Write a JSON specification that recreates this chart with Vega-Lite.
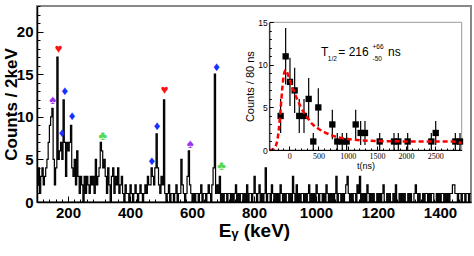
{
  "$schema": "https://vega.github.io/schema/vega-lite/v6.json",
  "width": 434,
  "height": 196,
  "autosize": "none",
  "padding": {"left": 37, "top": 6, "right": 3, "bottom": 54},
  "background": "white",
  "config": {
    "view": {"stroke": "#888", "strokeWidth": 2},
    "axis": {"grid": false, "domainColor": "black", "tickColor": "black", "labelColor": "black", "titleColor": "black", "labelFont": "Liberation Sans", "titleFont": "Liberation Sans", "labelFlush": false, "labelOverlap": false},
    "text": {"font": "Liberation Sans"}
  },
  "datasets": {
    "hist": [
      {"e":100,"c":2},{"e":104,"c":4},{"e":108,"c":1},{"e":112,"c":3},{"e":116,"c":4},{"e":120,"c":2},{"e":124,"c":3},{"e":128,"c":4},{"e":132,"c":5},{"e":136,"c":7},{"e":140,"c":9},{"e":144,"c":10},{"e":148,"c":11},{"e":152,"c":5},{"e":156,"c":2},{"e":160,"c":4},{"e":164,"c":17},{"e":168,"c":5},{"e":172,"c":6},{"e":176,"c":7},{"e":180,"c":5},{"e":184,"c":12},{"e":188,"c":7},{"e":192,"c":3},{"e":196,"c":7},{"e":200,"c":6},{"e":204,"c":7},{"e":208,"c":9},{"e":212,"c":4},{"e":216,"c":3},{"e":220,"c":5},{"e":224,"c":2},{"e":228,"c":6},{"e":232,"c":3},{"e":236,"c":1},{"e":240,"c":3},{"e":244,"c":2},{"e":248,"c":0},{"e":252,"c":3},{"e":256,"c":1},{"e":260,"c":3},{"e":264,"c":2},{"e":268,"c":1},{"e":272,"c":3},{"e":276,"c":2},{"e":280,"c":3},{"e":284,"c":1},{"e":288,"c":5},{"e":292,"c":2},{"e":296,"c":3},{"e":300,"c":4},{"e":304,"c":7},{"e":308,"c":6},{"e":312,"c":4},{"e":316,"c":5},{"e":320,"c":3},{"e":324,"c":1},{"e":328,"c":4},{"e":332,"c":2},{"e":336,"c":0},{"e":340,"c":3},{"e":344,"c":4},{"e":348,"c":1},{"e":352,"c":3},{"e":356,"c":2},{"e":360,"c":4},{"e":364,"c":1},{"e":368,"c":2},{"e":372,"c":3},{"e":376,"c":1},{"e":380,"c":0},{"e":384,"c":2},{"e":388,"c":1},{"e":392,"c":1},{"e":396,"c":0},{"e":400,"c":2},{"e":404,"c":1},{"e":408,"c":0},{"e":412,"c":1},{"e":416,"c":2},{"e":420,"c":1},{"e":424,"c":0},{"e":428,"c":1},{"e":432,"c":2},{"e":436,"c":1},{"e":440,"c":0},{"e":444,"c":1},{"e":448,"c":2},{"e":452,"c":1},{"e":456,"c":3},{"e":460,"c":2},{"e":464,"c":2},{"e":468,"c":4},{"e":472,"c":3},{"e":476,"c":2},{"e":480,"c":4},{"e":484,"c":8},{"e":488,"c":4},{"e":492,"c":2},{"e":496,"c":1},{"e":500,"c":3},{"e":504,"c":2},{"e":508,"c":12},{"e":512,"c":1},{"e":516,"c":0},{"e":520,"c":1},{"e":524,"c":2},{"e":528,"c":0},{"e":532,"c":1},{"e":536,"c":1},{"e":540,"c":0},{"e":544,"c":1},{"e":548,"c":2},{"e":552,"c":0},{"e":556,"c":1},{"e":560,"c":1},{"e":564,"c":5},{"e":568,"c":2},{"e":572,"c":1},{"e":576,"c":0},{"e":580,"c":1},{"e":584,"c":3},{"e":588,"c":6},{"e":592,"c":2},{"e":596,"c":1},{"e":600,"c":0},{"e":604,"c":1},{"e":608,"c":0},{"e":612,"c":1},{"e":616,"c":1},{"e":620,"c":0},{"e":624,"c":1},{"e":628,"c":2},{"e":632,"c":0},{"e":636,"c":1},{"e":640,"c":1},{"e":644,"c":0},{"e":648,"c":1},{"e":652,"c":2},{"e":656,"c":1},{"e":660,"c":0},{"e":664,"c":2},{"e":668,"c":4},{"e":672,"c":15},{"e":676,"c":1},{"e":680,"c":2},{"e":684,"c":1},{"e":688,"c":3},{"e":692,"c":0},{"e":696,"c":1},{"e":700,"c":0},{"e":704,"c":1},{"e":708,"c":1},{"e":712,"c":0},{"e":716,"c":1},
      {"e":720,"c":1},{"e":724,"c":0},{"e":728,"c":1},{"e":732,"c":0},{"e":736,"c":1},{"e":740,"c":2},{"e":744,"c":0},{"e":748,"c":1},{"e":752,"c":0},{"e":756,"c":1},{"e":760,"c":1},{"e":764,"c":0},{"e":768,"c":1},{"e":772,"c":0},{"e":776,"c":2},{"e":780,"c":0},{"e":784,"c":1},{"e":788,"c":1},{"e":792,"c":0},{"e":796,"c":1},{"e":800,"c":3},{"e":804,"c":1},{"e":808,"c":0},{"e":812,"c":1},{"e":816,"c":2},{"e":820,"c":0},{"e":824,"c":1},{"e":828,"c":0},{"e":832,"c":1},{"e":836,"c":4},{"e":840,"c":0},{"e":844,"c":1},{"e":848,"c":1},{"e":852,"c":0},{"e":856,"c":2},{"e":860,"c":1},{"e":864,"c":0},{"e":868,"c":1},{"e":872,"c":0},{"e":876,"c":1},{"e":880,"c":0},{"e":884,"c":2},{"e":888,"c":1},{"e":892,"c":0},{"e":896,"c":1},{"e":900,"c":0},{"e":904,"c":1},{"e":908,"c":1},{"e":912,"c":0},{"e":916,"c":1},{"e":920,"c":0},{"e":924,"c":3},{"e":928,"c":1},{"e":932,"c":0},{"e":936,"c":2},{"e":940,"c":0},{"e":944,"c":1},{"e":948,"c":0},{"e":952,"c":1},{"e":956,"c":1},{"e":960,"c":0},{"e":964,"c":1},{"e":968,"c":0},{"e":972,"c":1},{"e":976,"c":2},{"e":980,"c":0},{"e":984,"c":1},{"e":988,"c":0},{"e":992,"c":1},{"e":996,"c":0},{"e":1000,"c":2},{"e":1004,"c":1},{"e":1008,"c":0},{"e":1012,"c":1},{"e":1016,"c":1},{"e":1020,"c":0},{"e":1024,"c":1},{"e":1028,"c":0},{"e":1032,"c":2},{"e":1036,"c":1},{"e":1040,"c":0},{"e":1044,"c":1},{"e":1048,"c":0},{"e":1052,"c":1},{"e":1056,"c":0},{"e":1060,"c":1},{"e":1064,"c":3},{"e":1068,"c":0},{"e":1072,"c":1},{"e":1076,"c":1},{"e":1080,"c":0},{"e":1084,"c":1},{"e":1088,"c":0},{"e":1092,"c":1},{"e":1096,"c":2},{"e":1100,"c":3},{"e":1104,"c":1},{"e":1108,"c":0},{"e":1112,"c":1},{"e":1116,"c":0},{"e":1120,"c":1},{"e":1124,"c":1},{"e":1128,"c":0},{"e":1132,"c":2},{"e":1136,"c":1},{"e":1140,"c":3},{"e":1144,"c":0},{"e":1148,"c":1},{"e":1152,"c":0},{"e":1156,"c":1},{"e":1160,"c":0},{"e":1164,"c":2},{"e":1168,"c":1},{"e":1172,"c":0},{"e":1176,"c":1},{"e":1180,"c":0},{"e":1184,"c":1},{"e":1188,"c":0},{"e":1196,"c":1},{"e":1200,"c":0},{"e":1204,"c":1},{"e":1208,"c":0},{"e":1212,"c":1},{"e":1216,"c":2},{"e":1220,"c":0},{"e":1228,"c":1},{"e":1232,"c":0},{"e":1236,"c":1},{"e":1240,"c":0},{"e":1248,"c":1},{"e":1252,"c":0},{"e":1256,"c":2},{"e":1260,"c":0},{"e":1268,"c":1},{"e":1272,"c":0},{"e":1276,"c":1},{"e":1280,"c":0},{"e":1284,"c":1},{"e":1288,"c":0},{"e":1296,"c":1},{"e":1300,"c":0},{"e":1304,"c":1},{"e":1308,"c":0},{"e":1316,"c":1},{"e":1320,"c":2},{"e":1324,"c":1},{"e":1328,"c":0},{"e":1332,"c":1},{"e":1336,"c":0},{"e":1344,"c":1},{"e":1348,"c":0},{"e":1352,"c":1},{"e":1356,"c":1},{"e":1360,"c":0},{"e":1364,"c":1},{"e":1368,"c":0},{"e":1372,"c":1},{"e":1376,"c":1},{"e":1380,"c":0},{"e":1388,"c":1},{"e":1392,"c":0},{"e":1396,"c":1},{"e":1400,"c":0},{"e":1404,"c":1},{"e":1408,"c":1},{"e":1412,"c":0},{"e":1416,"c":1},{"e":1420,"c":0},{"e":1424,"c":1},{"e":1428,"c":0},{"e":1432,"c":1},{"e":1436,"c":1},{"e":1440,"c":2},{"e":1444,"c":2},{"e":1448,"c":1},{"e":1452,"c":1},{"e":1456,"c":0},{"e":1460,"c":1},{"e":1464,"c":1},{"e":1468,"c":0},{"e":1472,"c":1},{"e":1476,"c":1},{"e":1480,"c":0},{"e":1484,"c":1},{"e":1488,"c":1},{"e":1492,"c":0},{"e":1496,"c":1},{"e":1500,"c":1}
    ],
    "markers": [
      {"e":151,"c":12.0,"s":"♠","k":"spade"},
      {"e":170,"c":18.0,"s":"♥","k":"heart"},
      {"e":181,"c":8.1,"s":"♦","k":"diamond"},
      {"e":190,"c":13.0,"s":"♦","k":"diamond"},
      {"e":213,"c":10.05,"s":"♦","k":"diamond"},
      {"e":312,"c":7.7,"s":"♣","k":"club"},
      {"e":470,"c":4.8,"s":"♦","k":"diamond"},
      {"e":487,"c":8.9,"s":"♦","k":"diamond"},
      {"e":512,"c":13.1,"s":"♥","k":"heart"},
      {"e":594,"c":6.85,"s":"♠","k":"spade"},
      {"e":679,"c":15.9,"s":"♦","k":"diamond"},
      {"e":695,"c":4.2,"s":"♣","k":"club"}
    ],
    "frame": [{"x0": -342, "x1": 2952, "y0": 0, "y1": 15}],
    "pts": [
      {"t":-148,"c":4,"lo":2,"hi":6},
      {"t":-62,"c":11,"lo":7.68,"hi":14.32},
      {"t":12,"c":8,"lo":5.17,"hi":10.83},
      {"t":92,"c":7,"lo":4.35,"hi":9.65},
      {"t":171,"c":4,"lo":2,"hi":6},
      {"t":252,"c":4,"lo":2,"hi":6},
      {"t":332,"c":6,"lo":3.55,"hi":8.45},
      {"t":411,"c":1,"lo":0,"hi":2},
      {"t":497,"c":5,"lo":2.76,"hi":7.24},
      {"t":737,"c":3,"lo":1.27,"hi":4.73},
      {"t":822,"c":1,"lo":0,"hi":2},
      {"t":907,"c":1,"lo":0,"hi":2},
      {"t":982,"c":1,"lo":0,"hi":2},
      {"t":1137,"c":3,"lo":1.27,"hi":4.73},
      {"t":1222,"c":2,"lo":0.59,"hi":3.41},
      {"t":1296,"c":2,"lo":0.59,"hi":3.41},
      {"t":1548,"c":1,"lo":0,"hi":2},
      {"t":1793,"c":1,"lo":0,"hi":2},
      {"t":1867,"c":1,"lo":0,"hi":2},
      {"t":2027,"c":1,"lo":0,"hi":2},
      {"t":2432,"c":1,"lo":0,"hi":2},
      {"t":2507,"c":2,"lo":0.59,"hi":3.41},
      {"t":2843,"c":1,"lo":0,"hi":2},
      {"t":2923,"c":1,"lo":0,"hi":2}
    ],
    "fit": [
      {"t":-340,"y":0.0},{"t":-300,"y":0.02},{"t":-260,"y":0.15},{"t":-230,"y":0.5},{"t":-200,"y":1.3},{"t":-180,"y":2.4},{"t":-160,"y":3.8},{"t":-140,"y":5.5},{"t":-120,"y":7.2},{"t":-100,"y":8.5},{"t":-80,"y":9.2},{"t":-60,"y":9.4},{"t":-40,"y":9.2},{"t":-20,"y":8.8},{"t":0,"y":8.4},{"t":40,"y":7.6},{"t":80,"y":6.9},{"t":120,"y":6.2},{"t":160,"y":5.6},{"t":200,"y":5.0},{"t":260,"y":4.3},{"t":320,"y":3.7},{"t":400,"y":3.0},{"t":500,"y":2.5},{"t":600,"y":2.1},{"t":700,"y":1.8},{"t":800,"y":1.55},{"t":900,"y":1.4},{"t":1000,"y":1.3},{"t":1200,"y":1.15},{"t":1400,"y":1.08},{"t":1700,"y":1.03},{"t":2000,"y":1.01},{"t":2500,"y":1.0},{"t":2800,"y":1.0},{"t":2900,"y":0.9},{"t":2950,"y":0.8}
    ],
    "label": [
      {"t":545,"c":11.0,"s":"T","k":"big"},
      {"t":660,"c":10.5,"s":"1/2","k":"small"},
      {"t":840,"c":11.0,"s":"= 216","k":"big"},
      {"t":1425,"c":11.9,"s":"+66","k":"small"},
      {"t":1425,"c":10.45,"s":"-50","k":"small"},
      {"t":1690,"c":11.0,"s":"ns","k":"big"}
    ]
  },
  "layer": [
    {
      "resolve": {"scale": {"x": "shared", "y": "shared"}, "axis": {"x": "independent", "y": "independent"}},
      "layer": [
        {
          "data": {"name": "hist"},
          "mark": {"type": "line", "interpolate": "step-after", "color": "black", "strokeWidth": 1.2, "clip": true},
          "encoding": {
            "x": {"field": "e", "type": "quantitative", "scale": {"domain": [100, 1500], "nice": false, "zero": false},
              "axis": {"orient": "bottom", "values": [200, 400, 600, 800, 1000, 1200, 1400], "format": "d", "tickSize": -6, "labelPadding": 9, "labelFontSize": 15, "labelFontWeight": "bold", "domainWidth": 1.5, "title": "Eᵧ (keV)", "titleFontSize": 19, "titleFontWeight": "bold", "titlePadding": 1}},
            "y": {"field": "c", "type": "quantitative", "scale": {"domain": [0, 23], "nice": false},
              "axis": {"orient": "left", "values": [0, 5, 10, 15, 20], "tickSize": -6, "labelPadding": 10, "labelFontSize": 15, "labelFontWeight": "bold", "domainWidth": 1.5, "title": "Counts / 2keV", "titleFontSize": 17, "titleFontWeight": "bold", "titlePadding": -4}}
          }
        },
        {
          "data": {"name": "markers"},
          "mark": {"type": "text", "fontSize": 13, "baseline": "middle", "align": "center"},
          "encoding": {
            "x": {"field": "e", "type": "quantitative",
              "axis": {"orient": "bottom", "values": [120,140,160,180,220,240,260,280,320,340,360,380,420,440,460,480,520,540,560,580,620,640,660,680,720,740,760,780,820,840,860,880,920,940,960,980,1020,1040,1060,1080,1120,1140,1160,1180,1220,1240,1260,1280,1320,1340,1360,1380,1420,1440,1460,1480], "tickSize": -3, "labels": false, "domain": false, "title": null}},
            "y": {"field": "c", "type": "quantitative",
              "axis": {"orient": "left", "values": [1,2,3,4,6,7,8,9,11,12,13,14,16,17,18,19,21,22,23], "tickSize": -3, "labels": false, "domain": false, "title": null}},
            "text": {"field": "s"},
            "color": {"field": "k", "type": "nominal", "scale": {"domain": ["heart", "diamond", "club", "spade"], "range": ["#ff1010", "#1530ff", "#55d855", "#9a30f0"]}, "legend": null}
          }
        }
      ]
    },
    {
      "resolve": {"scale": {"x": "shared", "y": "shared"}, "axis": {"x": "independent", "y": "independent"}},
      "layer": [
        {
          "data": {"name": "frame"},
          "mark": {"type": "rect", "fill": "white", "stroke": "#999", "strokeWidth": 1},
          "encoding": {
            "x": {"field": "x0", "type": "quantitative", "scale": {"domain": [-342, 2952], "range": [232.3, 424.7], "nice": false, "zero": false},
              "axis": {"orient": "bottom", "offset": -52, "zindex": 2, "values": [0, 500, 1000, 1500, 2000, 2500], "format": "d", "tickSize": -4, "labelPadding": 6, "labelFontSize": 8, "labelFont": "Liberation Sans Narrow", "domainWidth": 1, "title": "t(ns)", "titleFontSize": 9, "titleFontWeight": "normal", "titlePadding": 1}},
            "x2": {"field": "x1"},
            "y": {"field": "y0", "type": "quantitative", "scale": {"domain": [0, 15], "range": [144, 16.3], "nice": false},
              "axis": {"orient": "left", "offset": -232.3, "zindex": 2, "values": [0, 5, 10, 15], "tickSize": -4, "labelPadding": 6, "labelFontSize": 8.5, "domainWidth": 1, "title": "Counts / 80 ns", "titleFontSize": 11, "titleFontWeight": "normal", "titlePadding": 2}},
            "y2": {"field": "y1"}
          }
        },
        {
          "data": {"name": "pts"},
          "mark": {"type": "rule", "color": "black", "strokeWidth": 1.2},
          "encoding": {
            "x": {"field": "t", "type": "quantitative",
              "axis": {"orient": "bottom", "offset": -52, "zindex": 2, "values": [-300,-200,-100,100,200,300,400,600,700,800,900,1100,1200,1300,1400,1600,1700,1800,1900,2100,2200,2300,2400,2600,2700,2800,2900], "tickSize": -2, "labels": false, "domain": false, "title": null}},
            "y": {"field": "lo", "type": "quantitative",
              "axis": {"orient": "left", "offset": -232.3, "zindex": 2, "values": [1,2,3,4,6,7,8,9,11,12,13,14], "tickSize": -2, "labels": false, "domain": false, "title": null}},
            "y2": {"field": "hi"}
          }
        },
        {
          "data": {"name": "pts"},
          "mark": {"type": "point", "shape": "square", "filled": true, "color": "black", "size": 40, "opacity": 1},
          "encoding": {
            "x": {"field": "t", "type": "quantitative", "axis": null},
            "y": {"field": "c", "type": "quantitative", "axis": null}
          }
        },
        {
          "data": {"name": "fit"},
          "mark": {"type": "line", "color": "#ff0000", "strokeWidth": 2.5, "strokeDash": [5, 3], "interpolate": "monotone"},
          "encoding": {
            "x": {"field": "t", "type": "quantitative", "axis": null},
            "y": {"field": "y", "type": "quantitative", "axis": null}
          }
        },
        {
          "data": {"name": "label"},
          "mark": {"type": "text", "align": "left", "baseline": "alphabetic", "color": "black"},
          "encoding": {
            "x": {"field": "t", "type": "quantitative", "axis": null},
            "y": {"field": "c", "type": "quantitative", "axis": null},
            "text": {"field": "s"},
            "size": {"field": "k", "type": "nominal", "scale": {"domain": ["big", "small"], "range": [12, 6.5]}, "legend": null}
          }
        }
      ]
    }
  ],
  "resolve": {"scale": {"x": "independent", "y": "independent"}, "axis": {"x": "independent", "y": "independent"}}
}
